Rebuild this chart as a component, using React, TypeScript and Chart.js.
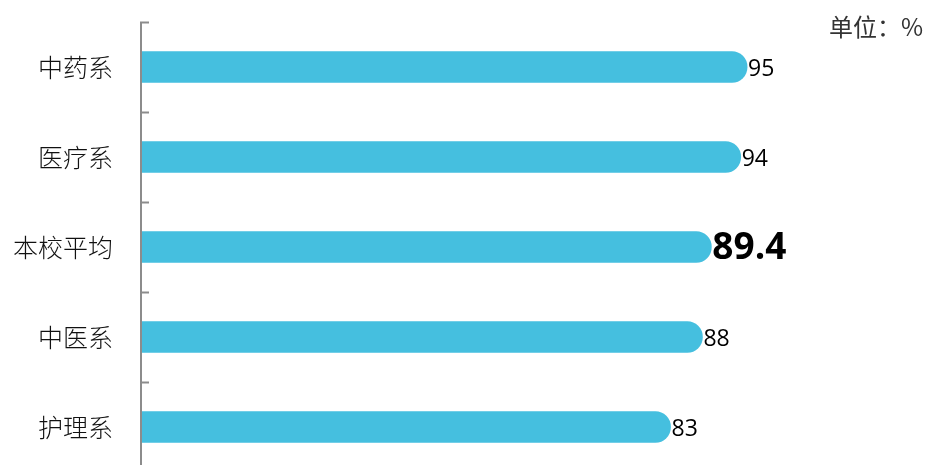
import React, { useEffect, useRef } from "react";
import { Chart, registerables } from "chart.js";

Chart.register(...registerables);

const categories = ["中药系", "医疗系", "本校平均", "中医系", "护理系"];
const values = [95, 94, 89.4, 88, 83];
const valueLabels = ["95", "94", "89.4", "88", "83"];
const highlightIndex = 2;
const unitText = "单位：%";

const labelPlugin = {
  id: "valueLabels",
  afterDatasetsDraw(chart: any) {
    const ctx = chart.ctx;
    const meta = chart.getDatasetMeta(0);
    ctx.save();
    ctx.textBaseline = "middle";
    ctx.textAlign = "left";
    meta.data.forEach((bar: any, i: number) => {
      const hl = i === highlightIndex;
      ctx.font = hl ? "bold 37px 'Open Sans', sans-serif" : "23px 'Open Sans', sans-serif";
      ctx.fillStyle = "#000";
      ctx.fillText(valueLabels[i], bar.x + 1, bar.y + (hl ? 1 : 2));
    });
    // unit text
    ctx.font = "24px 'Noto Sans CJK SC', sans-serif";
    ctx.fillStyle = "#333";
    ctx.textAlign = "right";
    ctx.fillText(unitText, 923, 27);
    // axis line and inward ticks
    const y = chart.scales.y;
    const x0 = chart.chartArea.left;
    ctx.strokeStyle = "#8c8c8c";
    ctx.lineWidth = 2;
    ctx.beginPath();
    ctx.moveTo(x0, chart.chartArea.top);
    ctx.lineTo(x0, chart.chartArea.bottom);
    ctx.stroke();
    for (let i = 0; i <= categories.length; i++) {
      const py = Math.round(y.getPixelForValue(i - 0.5)) + 0.5;
      ctx.beginPath();
      ctx.moveTo(x0 - 1, py);
      ctx.lineTo(x0 + 8, py);
      ctx.stroke();
    }
    ctx.restore();
  },
};

export default function App() {
  const ref = useRef<HTMLCanvasElement>(null);
  useEffect(() => {
    if (!ref.current) return;
    const chart = new Chart(ref.current, {
      type: "bar",
      data: {
        labels: categories,
        datasets: [
          {
            data: values,
            backgroundColor: "#45BFDF",
            barThickness: 31,
            borderRadius: { topLeft: 0, bottomLeft: 0, topRight: 16, bottomRight: 16 },
            borderSkipped: false,
          },
        ],
      },
      options: {
        indexAxis: "y",
        animation: false,
        responsive: false,
        layout: { padding: { top: 22, bottom: 8, right: 149, left: 0 } },
        plugins: { legend: { display: false }, tooltip: { enabled: false } },
        scales: {
          x: { display: false, min: 0, max: 100 },
          y: {
            afterFit(scale: any) {
              scale.width = 141;
              scale.paddingTop = 0;
              scale.paddingBottom = 0;
            },
            grid: { display: false, drawTicks: false },
            border: { display: false },
            ticks: {
              padding: 28,
              color: "#111",
              font: { size: 25, family: "'Noto Sans CJK SC', sans-serif", weight: 300 as any },
            },
          },
        },
      },
      plugins: [labelPlugin],
    });
    return () => chart.destroy();
  }, []);
  return (
    <div style={{ position: "fixed", left: 0, top: 0, width: 928, height: 465, overflow: "hidden", background: "#fff" }}>
      <canvas ref={ref} width={928} height={480} style={{ width: 928, height: 480, display: "block" }} />
    </div>
  );
}
